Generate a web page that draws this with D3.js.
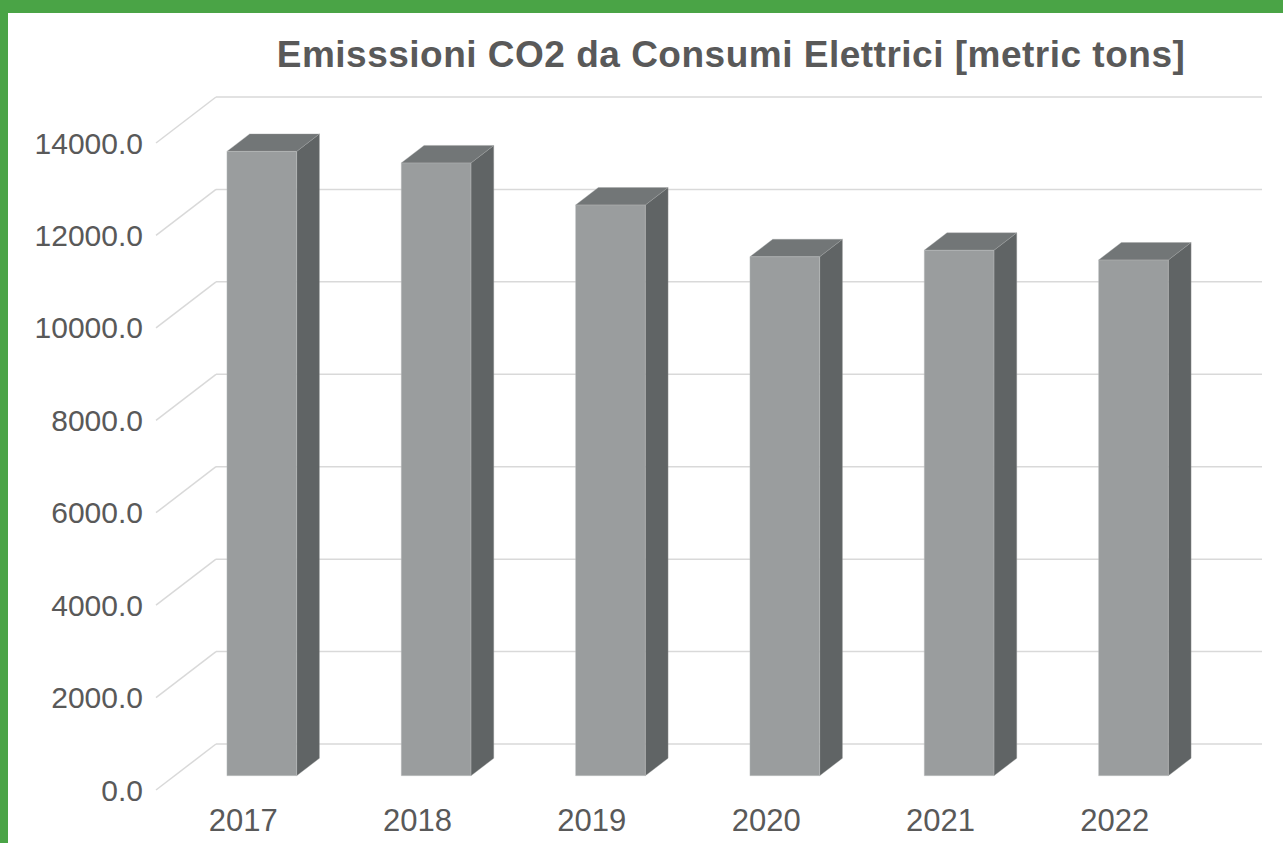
<!DOCTYPE html>
<html>
<head>
<meta charset="utf-8">
<script src="https://cdn.jsdelivr.net/npm/d3@7"></script>
<style>
  html, body { margin: 0; padding: 0; background: #ffffff; }
  svg { display: block; }
</style>
</head>
<body>
<svg id="chart" width="1283" height="843"></svg>
<script>
// Electricity-related CO2 emissions per year (metric tons)
const years = ["2017", "2018", "2019", "2020", "2021", "2022"];
const emissions = [13510, 13260, 12350, 11230, 11370, 11160];
const tickValues = [0, 2000, 4000, 6000, 8000, 10000, 12000, 14000];
const chartTitle = "Emisssioni CO2 da Consumi Elettrici [metric tons]";

const W = 1283, H = 843;
const svg = d3.select("#chart");

// Green frame along the top and left edges
svg.append("rect").attr("x", 0).attr("y", 0).attr("width", W).attr("height", H).attr("fill", "#4aa446");
svg.append("rect").attr("x", 8).attr("y", 13).attr("width", W - 8).attr("height", H - 13).attr("fill", "#ffffff");

// Scales on the back wall of the 3D box
const x = d3.scaleBand().domain(years).range([216, 1262]).paddingInner(0.6).paddingOuter(0.3);
const y = d3.scaleLinear().domain([0, 14000]).range([744, 97]);

// Oblique depth: z = 0 is the front edge of the floor, z = 1 the back wall
const DX = 60, DY = 46;
const proj = (xb, yb, z) => [xb - (1 - z) * DX, yb + (1 - z) * DY];

const textColor = "#595959";
const gridColor = "#d9d9d9";

// Gridlines: horizontal on the back wall, diagonal on the left wall
const grid = svg.append("g");
tickValues.forEach(v => {
  const yb = y(v);
  const [fx, fy] = proj(x.range()[0], yb, 0);
  grid.append("line")
    .attr("x1", x.range()[0]).attr("y1", yb)
    .attr("x2", x.range()[1]).attr("y2", yb)
    .attr("stroke", gridColor).attr("stroke-width", 1.5);
  grid.append("line")
    .attr("x1", fx).attr("y1", fy)
    .attr("x2", x.range()[0]).attr("y2", yb)
    .attr("stroke", gridColor).attr("stroke-width", 1.5);
});

// Value labels at the front edge of the left wall
const fmt = d3.format(".1f");
svg.append("g").selectAll("text")
  .data(tickValues)
  .join("text")
  .attr("x", 143)
  .attr("y", d => proj(x.range()[0], y(d), 0)[1])
  .attr("dy", "0.35em")
  .attr("text-anchor", "end")
  .attr("font-family", "'Liberation Sans', Arial, Helvetica, sans-serif")
  .attr("font-size", 30)
  .attr("fill", textColor)
  .text(d => fmt(d));

// 3D bars
const zFront = 0.31, zBack = 0.69;
const bars = svg.append("g");
years.forEach((yr, i) => {
  const v = emissions[i];
  const x0 = x(yr), x1 = x(yr) + x.bandwidth();
  const yt = y(v), y0 = y(0);
  const p = (xb, yb, z) => proj(xb, yb, z).join(",");
  const front = [p(x0, yt, zFront), p(x1, yt, zFront), p(x1, y0, zFront), p(x0, y0, zFront)];
  const top = [p(x0, yt, zFront), p(x0, yt, zBack), p(x1, yt, zBack), p(x1, yt, zFront)];
  const side = [p(x1, yt, zFront), p(x1, yt, zBack), p(x1, y0, zBack), p(x1, y0, zFront)];
  const g = bars.append("g");
  g.append("polygon").attr("points", side.join(" ")).attr("fill", "#606465")
    .attr("stroke", "#9fa2a3").attr("stroke-width", 0.6).attr("stroke-opacity", 0.6);
  g.append("polygon").attr("points", top.join(" ")).attr("fill", "#727677")
    .attr("stroke", "#9fa2a3").attr("stroke-width", 0.6).attr("stroke-opacity", 0.6);
  g.append("polygon").attr("points", front.join(" ")).attr("fill", "#9a9d9e")
    .attr("stroke", "#c4c6c6").attr("stroke-width", 0.6).attr("stroke-opacity", 0.6);
});

// Category labels under the front edge of the floor
svg.append("g").selectAll("text")
  .data(years)
  .join("text")
  .attr("x", d => proj(x(d) + x.bandwidth() / 2, 0, 0)[0])
  .attr("y", 831)
  .attr("text-anchor", "middle")
  .attr("font-family", "'Liberation Sans', Arial, Helvetica, sans-serif")
  .attr("font-size", 31)
  .attr("fill", textColor)
  .text(d => d);

// Title
svg.append("text")
  .attr("x", 731)
  .attr("y", 67)
  .attr("text-anchor", "middle")
  .attr("font-family", "'Liberation Sans', Arial, Helvetica, sans-serif")
  .attr("font-size", 37)
  .attr("font-weight", "bold")
  .attr("letter-spacing", 0.5)
  .attr("fill", textColor)
  .text(chartTitle);
</script>
</body>
</html>
